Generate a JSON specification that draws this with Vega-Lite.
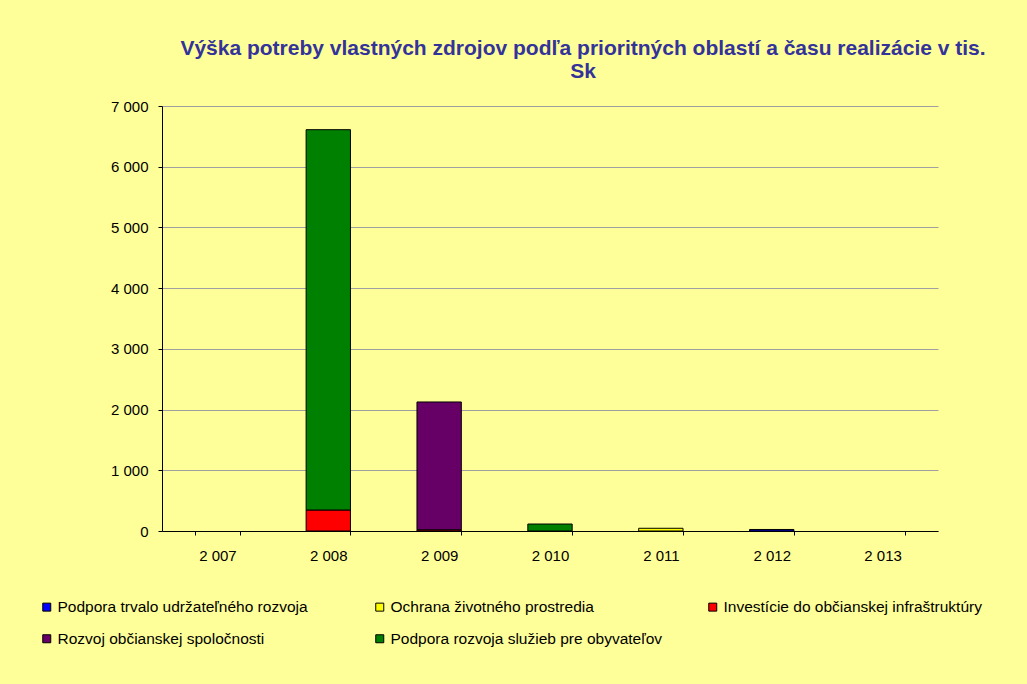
{
  "$schema": "https://vega.github.io/schema/vega-lite/v6.json",
  "width": 776,
  "height": 425,
  "autosize": "none",
  "padding": {"left": 162, "top": 106, "right": 89, "bottom": 153},
  "background": "#FFFF99",
  "title": {
    "text": ["Výška potreby vlastných zdrojov podľa prioritných oblastí a času realizácie v tis.", "Sk"],
    "color": "#333399",
    "fontSize": 21,
    "fontWeight": "bold",
    "font": "Liberation Sans",
    "anchor": "middle",
    "dx": 33,
    "lineHeight": 23,
    "offset": 17
  },
  "data": {
    "values": [
      {"rok": 2008, "oblast": "Investície do občianskej infraštruktúry", "poradie": 3, "hodnota": 346},
      {"rok": 2008, "oblast": "Podpora rozvoja služieb pre obyvateľov", "poradie": 5, "hodnota": 6264},
      {"rok": 2009, "oblast": "Investície do občianskej infraštruktúry", "poradie": 3, "hodnota": 20},
      {"rok": 2009, "oblast": "Rozvoj občianskej spoločnosti", "poradie": 4, "hodnota": 2105},
      {"rok": 2010, "oblast": "Podpora rozvoja služieb pre obyvateľov", "poradie": 5, "hodnota": 115},
      {"rok": 2011, "oblast": "Ochrana životného prostredia", "poradie": 2, "hodnota": 45},
      {"rok": 2012, "oblast": "Podpora trvalo udržateľného rozvoja", "poradie": 1, "hodnota": 25}
    ]
  },
  "mark": {"type": "bar", "stroke": "#000000", "strokeWidth": 1},
  "encoding": {
    "x": {
      "field": "rok",
      "type": "ordinal",
      "scale": {"domain": [2007, 2008, 2009, 2010, 2011, 2012, 2013], "paddingInner": 0.6, "paddingOuter": 0.3},
      "axis": {
        "title": null,
        "labelAngle": 0,
        "labelExpr": "datum.label ? replace(format(toNumber(datum.label), ',d'), ',', ' ') : ''",
        "labelFont": "Liberation Sans",
        "labelFontSize": 15,
        "labelColor": "#000000",
        "labelPadding": 13,
        "tickBand": "extent",
        "tickSize": 4,
        "tickColor": "#000000",
        "domainColor": "#000000",
        "domainWidth": 1,
        "grid": false
      }
    },
    "y": {
      "field": "hodnota",
      "type": "quantitative",
      "stack": "zero",
      "scale": {"domain": [0, 7000], "nice": false},
      "axis": {
        "title": null,
        "values": [0, 1000, 2000, 3000, 4000, 5000, 6000, 7000],
        "labelExpr": "replace(format(datum.value, ',d'), ',', ' ')",
        "labelFont": "Liberation Sans",
        "labelFontSize": 15,
        "labelColor": "#000000",
        "labelPadding": 10,
        "tickSize": 4,
        "tickColor": "#000000",
        "domainColor": "#000000",
        "domainWidth": 1,
        "grid": true,
        "gridColor": "#A0A0A0",
        "gridWidth": 1
      }
    },
    "color": {
      "field": "oblast",
      "type": "nominal",
      "scale": {
        "domain": ["Podpora trvalo udržateľného rozvoja", "Ochrana životného prostredia", "Investície do občianskej infraštruktúry", "Rozvoj občianskej spoločnosti", "Podpora rozvoja služieb pre obyvateľov"],
        "range": ["#0000FF", "#FFFF00", "#FF0000", "#660066", "#008000"]
      },
      "legend": {
        "title": null,
        "orient": "none",
        "legendX": -123,
        "legendY": 493,
        "columns": 3,
        "direction": "horizontal",
        "gridAlign": "all",
        "columnPadding": 42,
        "rowPadding": 15,
        "symbolType": "square",
        "symbolSize": 64,
        "symbolStrokeColor": "#000000",
        "symbolStrokeWidth": 1,
        "symbolOpacity": 1,
        "labelFont": "Liberation Sans",
        "labelFontSize": 15.5,
        "labelColor": "#000000",
        "labelOffset": 3,
        "labelLimit": 400
      }
    },
    "order": {"field": "poradie", "type": "quantitative"}
  },
  "config": {"view": {"stroke": null}}
}
